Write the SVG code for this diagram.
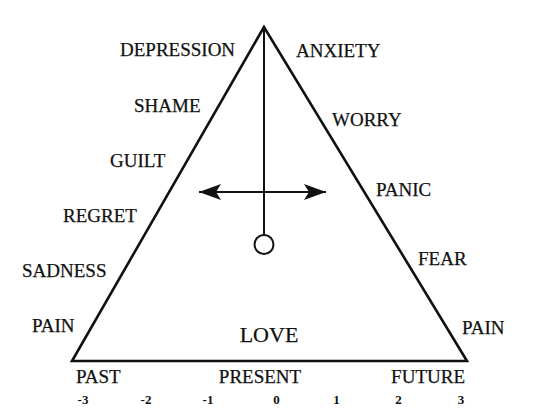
<svg xmlns="http://www.w3.org/2000/svg" width="540" height="411" viewBox="0 0 540 411">
<style>
.t{font-family:"Liberation Serif","Times New Roman",serif;font-size:19px;fill:#111;stroke:#111;stroke-width:0.25}
.n{font-family:"Liberation Serif","Times New Roman",serif;font-size:13px;font-weight:bold;fill:#111}
.ln{stroke:#111;fill:none}
</style>
<defs>
<marker id="ah" viewBox="0 0 22 16" refX="22" refY="8" markerWidth="22" markerHeight="16" markerUnits="userSpaceOnUse" orient="auto-start-reverse">
<path d="M0,0 L22,8 L0,16 L5,8 Z" fill="#111"/>
</marker>
</defs>
<rect width="540" height="411" fill="#fff"/>
<g id="triangle"><path class="ln" d="M264,27 L72,361 L467,361 Z" stroke-width="2.6" stroke-linejoin="miter"/></g>
<g id="connectors">
<line class="ln" x1="264" y1="27" x2="264" y2="235" stroke-width="2"/>
<line class="ln" x1="199" y1="192" x2="326" y2="192" stroke-width="2" marker-start="url(#ah)" marker-end="url(#ah)"/>
</g>
<g id="pendulum"><circle cx="264" cy="244.5" r="9.5" fill="#fff" stroke="#111" stroke-width="2"/></g>
<g id="left-labels">
<text class="t" x="120" y="56">DEPRESSION</text>
<text class="t" x="134" y="112">SHAME</text>
<text class="t" x="110" y="167">GUILT</text>
<text class="t" x="63" y="222">REGRET</text>
<text class="t" x="22" y="277">SADNESS</text>
<text class="t" x="32" y="332">PAIN</text>
</g>
<g id="right-labels">
<text class="t" x="296" y="57">ANXIETY</text>
<text class="t" x="332" y="126">WORRY</text>
<text class="t" x="376" y="196">PANIC</text>
<text class="t" x="418" y="265">FEAR</text>
<text class="t" x="462" y="334">PAIN</text>
</g>
<g id="love"><text class="t" x="269" y="342" text-anchor="middle" style="font-size:22px">LOVE</text></g>
<g id="axis-labels">
<text class="t" x="76" y="383">PAST</text>
<text class="t" x="260" y="383" text-anchor="middle">PRESENT</text>
<text class="t" x="465" y="383" text-anchor="end">FUTURE</text>
</g>
<g id="axis-numbers">
<text class="n" x="83" y="404" text-anchor="middle">-3</text>
<text class="n" x="146" y="404" text-anchor="middle">-2</text>
<text class="n" x="208" y="404" text-anchor="middle">-1</text>
<text class="n" x="276.5" y="404" text-anchor="middle">0</text>
<text class="n" x="336.5" y="404" text-anchor="middle">1</text>
<text class="n" x="398.5" y="404" text-anchor="middle">2</text>
<text class="n" x="461" y="404" text-anchor="middle">3</text>
</g>
</svg>
